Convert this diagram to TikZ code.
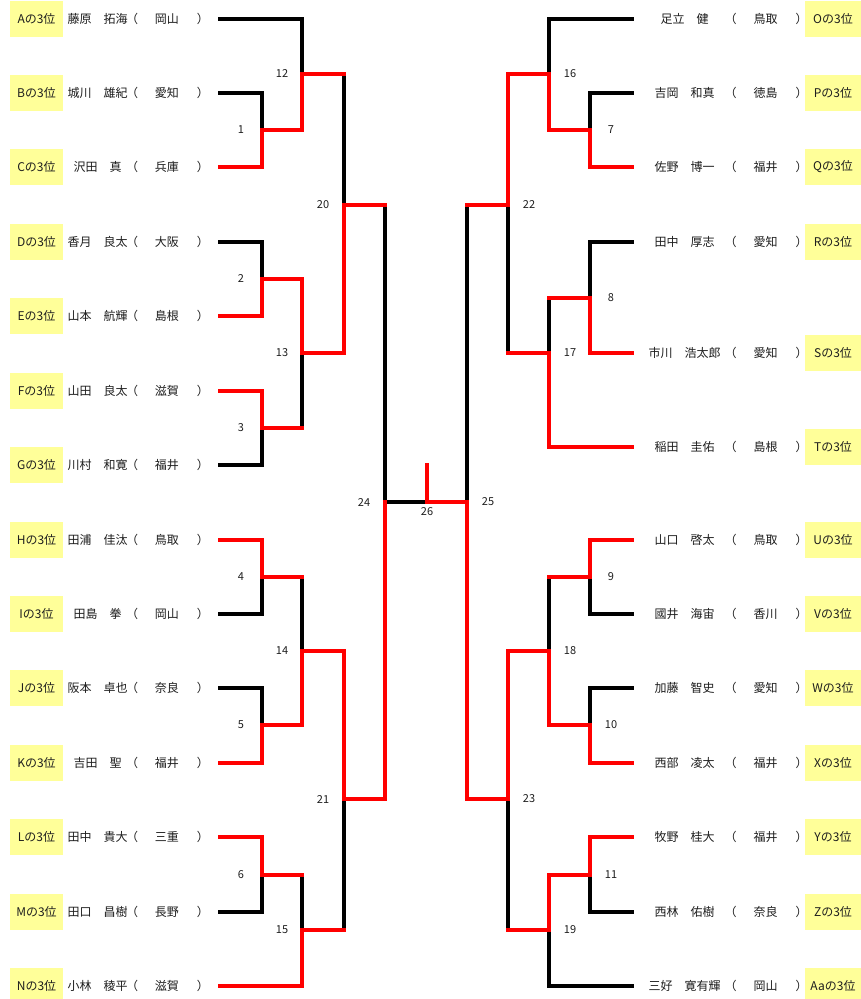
\documentclass[tikz,border=0pt]{standalone}
\usepackage{fontspec}
\setmainfont{Noto Sans CJK JP}
\usetikzlibrary{positioning}
\definecolor{seedYellow}{HTML}{FFFF99}
\definecolor{bracketRed}{HTML}{FF0000}
\definecolor{textDark}{HTML}{1E1E1E}
\newcommand{\kenmei}[1]{（\hspace{17pt}#1\hspace{18pt}）}

\begin{document}
\begin{tikzpicture}[x=1pt,y=-1pt,
 seed/.style={fill=seedYellow,minimum width=53pt,minimum height=36pt,inner sep=0pt,font=\fontsize{12}{14}\selectfont,text=textDark},
 seedR/.style={seed,minimum width=56pt},
 player/.style={inner sep=0pt,font=\fontsize{12}{14}\selectfont,text=textDark},
 num/.style={inner sep=0pt,font=\fontsize{11}{13}\selectfont,text=textDark},
 lose/.style={line width=3.2pt,draw=black,line cap=rect},
 win/.style={line width=3.2pt,draw=bracketRed,line cap=rect}
]
\fill[white] (0,0) rectangle (861,999);
\useasboundingbox (0,0) rectangle (861,999);

% left block
\node[seed] (sA) at (36.5,19) {Aの3位}; \node[player] (nA) at (97.5,19) {藤原　拓海}; \node[player] (kA) at (167.5,19) {\kenmei{岡山}};
\node[seed] (sB) at (36.5,93) {Bの3位}; \node[player] (nB) at (97.5,93) {城川　雄紀}; \node[player] (kB) at (167.5,93) {\kenmei{愛知}};
\node[seed] (sC) at (36.5,167) {Cの3位}; \node[player] (nC) at (97.5,167) {沢田　真}; \node[player] (kC) at (167.5,167) {\kenmei{兵庫}};
\node[seed] (sD) at (36.5,242) {Dの3位}; \node[player] (nD) at (97.5,242) {香月　良太}; \node[player] (kD) at (167.5,242) {\kenmei{大阪}};
\node[seed] (sE) at (36.5,316) {Eの3位}; \node[player] (nE) at (97.5,316) {山本　航輝}; \node[player] (kE) at (167.5,316) {\kenmei{島根}};
\node[seed] (sF) at (36.5,391) {Fの3位}; \node[player] (nF) at (97.5,391) {山田　良太}; \node[player] (kF) at (167.5,391) {\kenmei{滋賀}};
\node[seed] (sG) at (36.5,465) {Gの3位}; \node[player] (nG) at (97.5,465) {川村　和寛}; \node[player] (kG) at (167.5,465) {\kenmei{福井}};
\node[seed] (sH) at (36.5,540) {Hの3位}; \node[player] (nH) at (97.5,540) {田浦　佳汰}; \node[player] (kH) at (167.5,540) {\kenmei{鳥取}};
\node[seed] (sI) at (36.5,614) {Iの3位}; \node[player] (nI) at (97.5,614) {田島　拳}; \node[player] (kI) at (167.5,614) {\kenmei{岡山}};
\node[seed] (sJ) at (36.5,688) {Jの3位}; \node[player] (nJ) at (97.5,688) {阪本　卓也}; \node[player] (kJ) at (167.5,688) {\kenmei{奈良}};
\node[seed] (sK) at (36.5,763) {Kの3位}; \node[player] (nK) at (97.5,763) {吉田　聖}; \node[player] (kK) at (167.5,763) {\kenmei{福井}};
\node[seed] (sL) at (36.5,837) {Lの3位}; \node[player] (nL) at (97.5,837) {田中　貴大}; \node[player] (kL) at (167.5,837) {\kenmei{三重}};
\node[seed] (sM) at (36.5,912) {Mの3位}; \node[player] (nM) at (97.5,912) {田口　昌樹}; \node[player] (kM) at (167.5,912) {\kenmei{長野}};
\node[seed] (sN) at (36.5,986) {Nの3位}; \node[player] (nN) at (97.5,986) {小林　稜平}; \node[player] (kN) at (167.5,986) {\kenmei{滋賀}};

% right block
\node[seedR] (sO) at (833,19) {Oの3位}; \node[player] (nO) at (684.5,19) {足立　健}; \node[player] (kO) at (766,19) {\kenmei{鳥取}};
\node[seedR] (sP) at (833,93) {Pの3位}; \node[player] (nP) at (684.5,93) {吉岡　和真}; \node[player] (kP) at (766,93) {\kenmei{徳島}};
\node[seedR] (sQ) at (833,167) {Qの3位}; \node[player] (nQ) at (684.5,167) {佐野　博一}; \node[player] (kQ) at (766,167) {\kenmei{福井}};
\node[seedR] (sR) at (833,242) {Rの3位}; \node[player] (nR) at (684.5,242) {田中　厚志}; \node[player] (kR) at (766,242) {\kenmei{愛知}};
\node[seedR] (sS) at (833,353) {Sの3位}; \node[player] (nS) at (684.5,353) {市川　浩太郎}; \node[player] (kS) at (766,353) {\kenmei{愛知}};
\node[seedR] (sT) at (833,447) {Tの3位}; \node[player] (nT) at (684.5,447) {稲田　圭佑}; \node[player] (kT) at (766,447) {\kenmei{島根}};
\node[seedR] (sU) at (833,540) {Uの3位}; \node[player] (nU) at (684.5,540) {山口　啓太}; \node[player] (kU) at (766,540) {\kenmei{鳥取}};
\node[seedR] (sV) at (833,614) {Vの3位}; \node[player] (nV) at (684.5,614) {國井　海宙}; \node[player] (kV) at (766,614) {\kenmei{香川}};
\node[seedR] (sW) at (833,688) {Wの3位}; \node[player] (nW) at (684.5,688) {加藤　智史}; \node[player] (kW) at (766,688) {\kenmei{愛知}};
\node[seedR] (sX) at (833,763) {Xの3位}; \node[player] (nX) at (684.5,763) {西部　凌太}; \node[player] (kX) at (766,763) {\kenmei{福井}};
\node[seedR] (sY) at (833,837) {Yの3位}; \node[player] (nY) at (684.5,837) {牧野　桂大}; \node[player] (kY) at (766,837) {\kenmei{福井}};
\node[seedR] (sZ) at (833,912) {Zの3位}; \node[player] (nZ) at (684.5,912) {西林　佑樹}; \node[player] (kZ) at (766,912) {\kenmei{奈良}};
\node[seedR] (sAa) at (833,986) {Aaの3位}; \node[player] (nAa) at (684.5,986) {三好　寛有輝}; \node[player] (kAa) at (766,986) {\kenmei{岡山}};

% line starts
\coordinate (lA) at (220,19); \coordinate (lB) at (220,93); \coordinate (lC) at (220,167);
\coordinate (lD) at (220,242); \coordinate (lE) at (220,316); \coordinate (lF) at (220,391);
\coordinate (lG) at (220,465); \coordinate (lH) at (220,540); \coordinate (lI) at (220,614);
\coordinate (lJ) at (220,688); \coordinate (lK) at (220,763); \coordinate (lL) at (220,837);
\coordinate (lM) at (220,912); \coordinate (lN) at (220,986);
\coordinate (lO) at (632,19); \coordinate (lP) at (632,93); \coordinate (lQ) at (632,167);
\coordinate (lR) at (632,242); \coordinate (lS) at (632,353); \coordinate (lT) at (632,447);
\coordinate (lU) at (632,540); \coordinate (lV) at (632,614); \coordinate (lW) at (632,688);
\coordinate (lX) at (632,763); \coordinate (lY) at (632,837); \coordinate (lZ) at (632,912);
\coordinate (lAa) at (632,986);

% match points
\coordinate (m1) at (262,130); \coordinate (m2) at (262,279); \coordinate (m3) at (262,428);
\coordinate (m4) at (262,577); \coordinate (m5) at (262,725); \coordinate (m6) at (262,875);
\coordinate (m12) at (302,74); \coordinate (m13) at (302,353); \coordinate (m14) at (302,651); \coordinate (m15) at (302,930);
\coordinate (m20) at (344,205); \coordinate (m21) at (344,799);
\coordinate (m24) at (385,502); \coordinate (m26) at (427,502); \coordinate (tick) at (427,465); \coordinate (m25) at (467,502);
\coordinate (m22) at (508,205); \coordinate (m23) at (508,799);
\coordinate (m16) at (549,74); \coordinate (m17) at (549,353); \coordinate (m18) at (549,651); \coordinate (m19) at (549,930);
\coordinate (m7) at (590,130); \coordinate (m8) at (590,298); \coordinate (m9) at (590,577);
\coordinate (m10) at (590,725); \coordinate (m11) at (590,875);

% black lines
\draw[lose] (lA) -| (m12); \draw[lose] (lB) -| (m1); \draw[lose] (lD) -| (m2);
\draw[lose] (lG) -| (m3); \draw[lose] (lI) -| (m4); \draw[lose] (lJ) -| (m5); \draw[lose] (lM) -| (m6);
\draw[lose] (m3 -| m13) -- (m13); \draw[lose] (m12 -| m20) -- (m20);
\draw[lose] (m4 -| m14) -- (m14); \draw[lose] (m6 -| m15) -- (m15);
\draw[lose] (m15 -| m21) -- (m21); \draw[lose] (m20 -| m24) -- (m24); \draw[lose] (m24) -- (m26);
\draw[lose] (lO) -| (m16); \draw[lose] (lP) -| (m7); \draw[lose] (lR) -| (m8);
\draw[lose] (lV) -| (m9); \draw[lose] (lW) -| (m10); \draw[lose] (lZ) -| (m11); \draw[lose] (lAa) -| (m19);
\draw[lose] (m8 -| m17) -- (m17); \draw[lose] (m17 -| m22) -- (m22); \draw[lose] (m22 -| m25) -- (m25);
\draw[lose] (m9 -| m18) -- (m18); \draw[lose] (m19 -| m23) -- (m23);

% red lines
\draw[win] (lC) -| (m1); \draw[win] (m1) -| (m12); \draw[win] (m12) -- (m12 -| m20);
\draw[win] (lE) -| (m2); \draw[win] (lF) -| (m3); \draw[win] (m2) -| (m13); \draw[win] (m3) -- (m3 -| m13);
\draw[win] (m13) -| (m20); \draw[win] (m20) -- (m20 -| m24);
\draw[win] (lH) -| (m4); \draw[win] (lK) -| (m5); \draw[win] (m4) -- (m4 -| m14); \draw[win] (m5) -| (m14);
\draw[win] (m14) -| (m21); \draw[win] (lL) -| (m6); \draw[win] (m6) -- (m6 -| m15);
\draw[win] (lN) -| (m15); \draw[win] (m15) -- (m15 -| m21); \draw[win] (m21) -| (m24);
\draw[win] (lQ) -| (m7); \draw[win] (m7) -| (m16); \draw[win] (m16) -| (m22);
\draw[win] (lS) -| (m8); \draw[win] (m8) -- (m8 -| m17); \draw[win] (lT) -| (m17);
\draw[win] (m17) -- (m17 -| m22); \draw[win] (m22) -- (m22 -| m25);
\draw[win] (lU) -| (m9); \draw[win] (lX) -| (m10); \draw[win] (m9) -- (m9 -| m18); \draw[win] (m10) -| (m18);
\draw[win] (m18) -| (m23); \draw[win] (lY) -| (m11); \draw[win] (m11) -| (m19);
\draw[win] (m19) -- (m19 -| m23); \draw[win] (m23) -| (m25);
\draw[win] (m25) -- (m26); \draw[win] (m26) -- (tick);

% match numbers
\node[num] (g1) at ([xshift=-21pt]m1) {1}; \node[num] (g2) at ([xshift=-21pt]m2) {2};
\node[num] (g3) at ([xshift=-21pt]m3) {3}; \node[num] (g4) at ([xshift=-21pt]m4) {4};
\node[num] (g5) at ([xshift=-21pt]m5) {5}; \node[num] (g6) at ([xshift=-21pt]m6) {6};
\node[num] (g12) at ([xshift=-20pt]m12) {12}; \node[num] (g13) at ([xshift=-20pt]m13) {13};
\node[num] (g14) at ([xshift=-20pt]m14) {14}; \node[num] (g15) at ([xshift=-20pt]m15) {15};
\node[num] (g20) at ([xshift=-21pt]m20) {20}; \node[num] (g21) at ([xshift=-21pt]m21) {21};
\node[num] (g24) at ([xshift=-21pt]m24) {24};
\node[num] (g26) at ([yshift=-10pt]m26) {26};
\node[num] (g25) at ([xshift=21pt]m25) {25};
\node[num] (g22) at ([xshift=21pt]m22) {22}; \node[num] (g23) at ([xshift=21pt]m23) {23};
\node[num] (g16) at ([xshift=21pt]m16) {16}; \node[num] (g17) at ([xshift=21pt]m17) {17};
\node[num] (g18) at ([xshift=21pt]m18) {18}; \node[num] (g19) at ([xshift=21pt]m19) {19};
\node[num] (g7) at ([xshift=21pt]m7) {7}; \node[num] (g8) at ([xshift=21pt]m8) {8};
\node[num] (g9) at ([xshift=21pt]m9) {9}; \node[num] (g10) at ([xshift=21pt]m10) {10};
\node[num] (g11) at ([xshift=21pt]m11) {11};
\end{tikzpicture}
\end{document}
